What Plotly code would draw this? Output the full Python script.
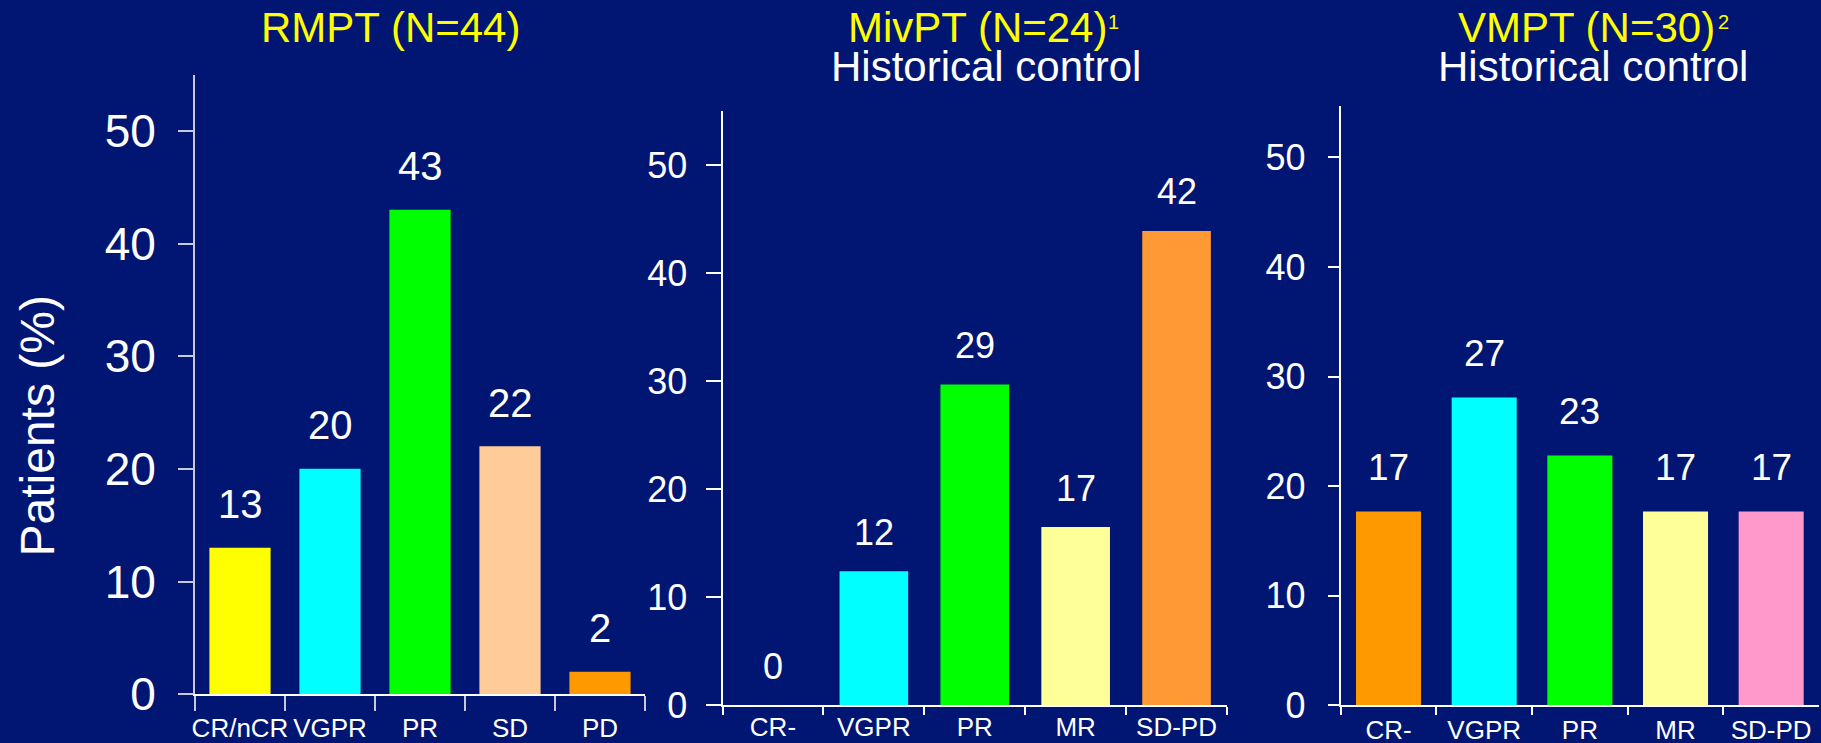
import plotly.graph_objects as go

# ---------------- data ----------------
cats1 = ["CR/nCR", "VGPR", "PR", "SD", "PD"]
vals1 = [13, 20, 43, 22, 2]
labels1 = ["13", "20", "43", "22", "2"]
colors1 = ["#FFFF00", "#00FFFF", "#00FF00", "#FFCC99", "#FF9900"]

cats2 = ["CR-", "VGPR", "PR", "MR", "SD-PD"]
vals2 = [0, 12.4, 29.7, 16.5, 43.9]
labels2 = ["0", "12", "29", "17", "42"]
colors2 = ["#FFFF99", "#00FFFF", "#00FF00", "#FFFF99", "#FF9933"]

cats3 = ["CR-", "VGPR", "PR", "MR", "SD-PD"]
vals3 = [17.7, 28.1, 22.8, 17.7, 17.7]
labels3 = ["17", "27", "23", "17", "17"]
colors3 = ["#FF9900", "#00FFFF", "#00FF00", "#FFFF99", "#FF99CC"]

yticks = [0, 10, 20, 30, 40, 50]

title1 = "RMPT (N=44)"
title2 = "MivPT (N=24)"
title2_sup = "1"
title3 = "VMPT (N=30)"
title3_sup = "2"
subtitle = "Historical control"
ytitle = "Patients (%)"

# ---------------- layout helpers ----------------
W, H = 1821, 743
BG = "#011672"
FONT = "Liberation Sans, Arial, sans-serif"
WHITE = "#FFFFFF"
YELLOW = "#FFFF00"


def fx(px):
    return px / W


def fy(py):
    return 1 - py / H


fig = go.Figure()

panels = [
    dict(cats=cats1, vals=vals1, labels=labels1, colors=colors1, xa="x", ya="y",
         xd=[195, 645], yd=[694.2, 74.5], ymax=55, lab_font=40, lab_shift=43.5),
    dict(cats=cats2, vals=vals2, labels=labels2, colors=colors2, xa="x2", ya="y2",
         xd=[722.5, 1227], yd=[705.3, 111], ymax=55, lab_font=36, lab_shift=39),
    dict(cats=cats3, vals=vals3, labels=labels3, colors=colors3, xa="x3", ya="y3",
         xd=[1340.7, 1819], yd=[705.3, 106], ymax=54.7, lab_font=37, lab_shift=44),
]

annotations = []
for p in panels:
    fig.add_trace(go.Bar(
        x=p["cats"], y=p["vals"], xaxis=p["xa"], yaxis=p["ya"],
        width=0.68,
        marker=dict(color=p["colors"], line=dict(width=0)),
        hoverinfo="skip", showlegend=False,
    ))
    for c, v, t in zip(p["cats"], p["vals"], p["labels"]):
        annotations.append(dict(
            x=c, y=v, xref=p["xa"], yref=p["ya"], text=t, showarrow=False,
            yanchor="middle", xanchor="center", yshift=p["lab_shift"],
            font=dict(family=FONT, size=p["lab_font"], color=WHITE),
        ))


def paper_text(x, y, text, size, color, xanchor="center", angle=0):
    return dict(x=fx(x), y=fy(y), xref="paper", yref="paper", text=text,
                showarrow=False, xanchor=xanchor, yanchor="middle",
                textangle=angle, font=dict(family=FONT, size=size, color=color))


annotations += [
    paper_text(390.5, 28, title1, 42, YELLOW),
    paper_text(977.5, 28, title2, 42, YELLOW),
    paper_text(1106, 22, title2_sup, 20, YELLOW, xanchor="left"),
    paper_text(986, 66, subtitle, 42, WHITE),
    paper_text(1586, 28, title3, 42, YELLOW),
    paper_text(1716, 22, title3_sup, 20, YELLOW, xanchor="left"),
    paper_text(1593, 66, subtitle, 42, WHITE),
    paper_text(37.5, 426, ytitle, 48, WHITE, angle=-90),
]


def xaxis_cfg(p, linecolor, tickcolor, ticklen, standoff):
    return dict(
        domain=[fx(p["xd"][0]), fx(p["xd"][1])], anchor=p["ya"],
        type="category", range=[-0.5, 4.5], fixedrange=True, automargin=False,
        showline=True, linecolor=linecolor, linewidth=2,
        ticks="outside", tickson="boundaries", ticklen=ticklen, tickwidth=2,
        tickcolor=tickcolor, ticklabelstandoff=standoff, tickangle=0,
        tickfont=dict(family=FONT, size=26, color=WHITE),
        showgrid=False, zeroline=False,
    )


def yaxis_cfg(p, linecolor, ticklen, fontsize, standoff):
    return dict(
        domain=[fy(p["yd"][0]), fy(p["yd"][1])], anchor=p["xa"],
        range=[0, p["ymax"]], tickvals=yticks, fixedrange=True, automargin=False,
        showline=True, linecolor=linecolor, linewidth=2,
        ticks="outside", ticklen=ticklen, tickwidth=2, tickcolor=linecolor,
        ticklabelstandoff=standoff,
        tickfont=dict(family=FONT, size=fontsize, color=WHITE),
        showgrid=False, zeroline=False,
    )


fig.update_layout(
    width=W, height=H,
    margin=dict(l=0, r=0, t=0, b=0, pad=0),
    paper_bgcolor=BG, plot_bgcolor=BG,
    showlegend=False,
    hovermode=False,
    font=dict(family=FONT, color=WHITE),
    xaxis=xaxis_cfg(panels[0], WHITE, "#C8C8D8", 15, 10),
    yaxis=yaxis_cfg(panels[0], "#C8C8D8", 15, 46, 13),
    xaxis2=xaxis_cfg(panels[1], WHITE, WHITE, 8, -3),
    yaxis2=yaxis_cfg(panels[1], WHITE, 15, 36, 11),
    xaxis3=xaxis_cfg(panels[2], WHITE, WHITE, 8, 0),
    yaxis3=yaxis_cfg(panels[2], WHITE, 11, 36, 15),
    annotations=annotations,
)

fig.write_html(
    "out.html",
    config={"displayModeBar": False, "staticPlot": True},
    post_script="document.body.style.margin='0px';document.body.style.overflow='hidden';"
                "document.body.style.background='" + BG + "';",
)
